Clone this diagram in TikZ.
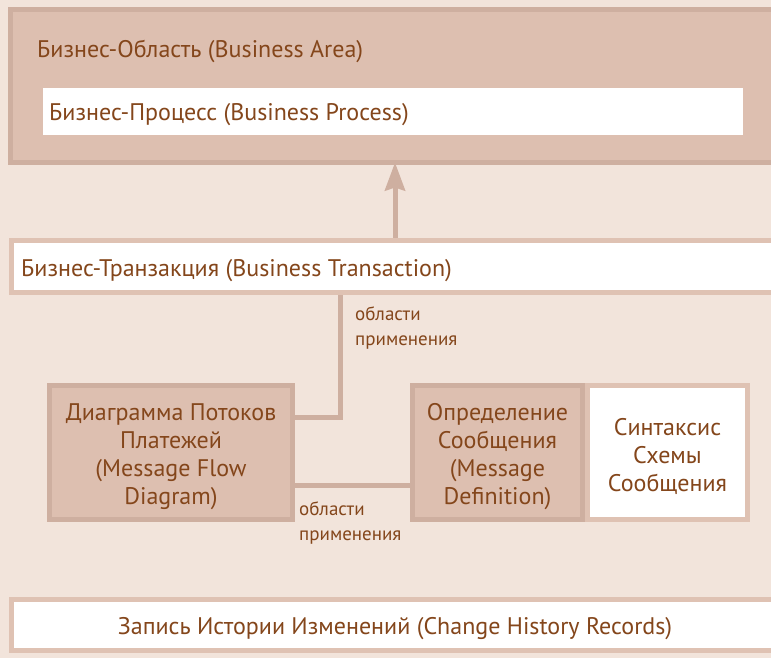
\documentclass[tikz,border=0pt]{standalone}
\usepackage{fontspec}
\setmainfont{PT Sans}
\usetikzlibrary{arrows.meta}
\definecolor{bgc}{HTML}{F2E4DB}
\definecolor{tanfill}{HTML}{DDBFB0}
\definecolor{tandark}{HTML}{CEAFA0}
\definecolor{tanlight}{HTML}{DFC2B3}
\definecolor{txtc}{HTML}{84461B}
\pgfdeclarelayer{bglayer}
\pgfdeclarelayer{connlayer}
\pgfsetlayers{bglayer,connlayer,main}
\begin{document}
\begin{tikzpicture}[x=1pt,y=-1pt,
  box/.style={draw=tandark,line width=5pt,fill=tanfill,inner sep=0pt,outer sep=0pt,anchor=north west},
  wbox/.style={draw=tanlight,line width=5pt,fill=white,inner sep=0pt,outer sep=0pt,anchor=north west},
  btxt/.style={text=txtc,font=\fontsize{24}{28}\selectfont,align=center,inner sep=0pt,yshift=-4pt},
  ttl/.style={text=txtc,font=\fontsize{24}{28}\selectfont,inner sep=0pt,anchor=west},
  small/.style={text=txtc,font=\fontsize{19}{25}\selectfont,inner sep=0pt,align=left,anchor=west},
  conn/.style={draw=tandark,line width=5pt},
]
\useasboundingbox (0,0) rectangle (771,658);
\begin{pgfonlayer}{bglayer}
  \fill[bgc] (0,0) rectangle (771,658);
\end{pgfonlayer}

% top area
\node[box,minimum width=800pt,minimum height=153pt] (area) at (10.5,9.5) {};
\node[ttl] (arealabel) at (37,51) {Бизнес-Область (Business Area)};
\node[fill=white,inner sep=0pt,outer sep=0pt,anchor=north west,minimum width=700pt,minimum height=47pt] (proc) at (43,88) {};
\node[ttl] (proclabel) at (49,115) {Бизнес-Процесс (Business Process)};

% transaction
\node[wbox,minimum width=800pt,minimum height=52pt] (trans) at (11.5,240.5) {};
\node[ttl] (translabel) at (21,271) {Бизнес-Транзакция (Business Transaction)};

% middle boxes
\node[box,minimum width=243pt,minimum height=134pt] (diag) at (49.5,385.5) {};
\node[btxt] (diagtxt) at (diag.center) {Диаграмма Потоков\\Платежей\\(Message Flow\\Diagram)};
\node[box,minimum width=170pt,minimum height=134pt] (msg) at (412.5,385.5) {};
\node[btxt] (msgtxt) at (msg.center) {Определение\\Сообщения\\(Message\\Definition)};
\node[wbox,minimum width=160pt,minimum height=134pt] (syn) at (587.5,385.5) {};
\node[btxt] (syntxt) at (syn.center) {Синтаксис\\Схемы\\Сообщения};

% change history
\node[wbox,minimum width=767pt,minimum height=51pt] (hist) at (11.5,599.5) {};
\node[btxt] (histtxt) at (hist.center) {Запись Истории Изменений (Change History Records)};

% labels
\node[small] (lab1) at (355,328) {области\\применения};
\node[small] (lab2) at (299,523) {области\\применения};

% connectors
\coordinate (ax) at (395,200);
\coordinate (k1) at (340,417);
\coordinate (k2) at (350,485);
\begin{pgfonlayer}{connlayer}
  \draw[conn,-{Stealth[length=28pt,width=20pt,inset=3pt]}] (trans.north -| ax) -- (area.south -| ax);
  \draw[conn] (trans.south -| k1) |- (diag.east |- k1);
  \draw[conn] (diag.east |- k2) -- (msg.west |- k2);
\end{pgfonlayer}
\end{tikzpicture}
\end{document}
